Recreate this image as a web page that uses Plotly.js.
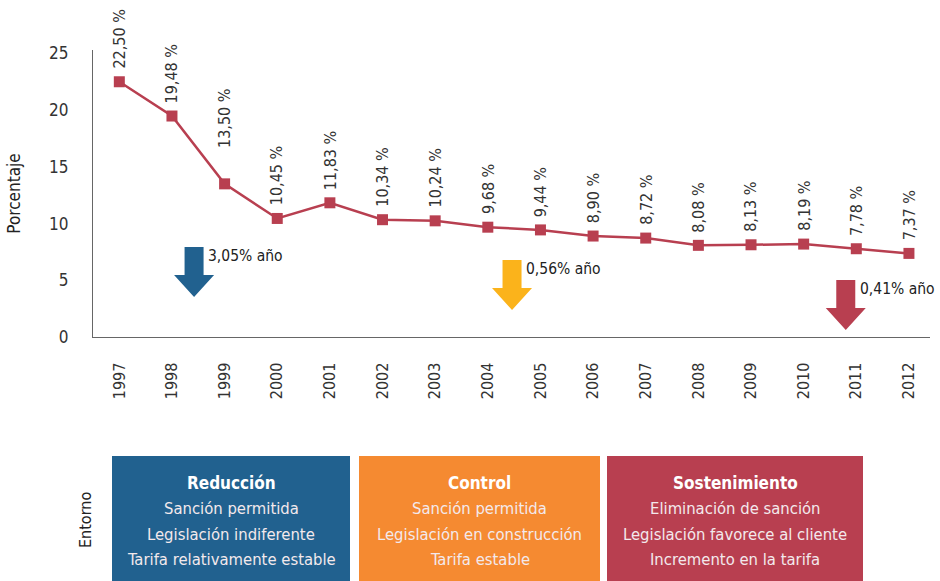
<!DOCTYPE html>
<html>
<head>
<meta charset="utf-8">
<script src="https://cdn.plot.ly/plotly-3.0.1.min.js"></script>
<style>html,body{margin:0;padding:0;background:#fff;}#chart{width:940px;height:581px;}</style>
</head>
<body>
<div id="chart"></div>
<script>
// ---- data ----
const years = ["1997","1998","1999","2000","2001","2002","2003","2004","2005","2006","2007","2008","2009","2010","2011","2012"];
const values = [22.50,19.48,13.50,10.45,11.83,10.34,10.24,9.68,9.44,8.90,8.72,8.08,8.13,8.19,7.78,7.37];
const valueLabels = ["22,50 %","19,48 %","13,50 %","10,45 %","11,83 %","10,34 %","10,24 %","9,68 %","9,44 %","8,90 %","8,72 %","8,08 %","8,13 %","8,19 %","7,78 %","7,37 %"];
const rateLabels = ["3,05% año","0,56% año","0,41% año"];
const stageTitles = ["Reducción","Control","Sostenimiento"];
const stageLines = [
  ["Sanción permitida","Legislación indiferente","Tarifa relativamente estable"],
  ["Sanción permitida","Legislación en construcción","Tarifa estable"],
  ["Eliminación de sanción","Legislación favorece al cliente","Incremento en la tarifa"]
];
const yTitle = "Porcentaje";
const sideLabel = "Entorno";

// ---- styling / layout ----
const FONT = "'Liberation Sans Narrow', 'DejaVu Sans Condensed', 'Roboto', sans-serif";
const lineColor = "#b83f50";
const stageColors = ["#21618f","#f58a31","#b83f50"];
const arrowColors = ["#21618f","#fbb31b","#b83f50"];
const arrowAnchorX = [1.42, 7.46, 13.8];   // category position of arrow tip
const arrowAnchorY = [3.53, 2.38, 0.62];   // value at arrow tip

const W = 940, H = 581;
const M = {l:93, r:10, t:50, b:244};
const plotW = W - M.l - M.r, plotH = H - M.t - M.b;
const px2x = px => (px - M.l) / plotW;
const py2y = py => (H - M.b - py) / plotH;

const trace = {
  x: years, y: values, type: 'scatter', mode: 'lines+markers',
  line: {color: lineColor, width: 2.5},
  marker: {symbol: 'square', size: 11, color: lineColor},
  hoverinfo: 'skip', cliponaxis: false
};

const annotations = [];
const shapes = [];

// data labels
years.forEach((yr, i) => {
  annotations.push({
    x: i, y: values[i], xref: 'x', yref: 'y',
    text: valueLabels[i], showarrow: false, textangle: -90,
    xanchor: 'center', yanchor: 'bottom', yshift: (i === 2 ? 34 : 11),
    font: {family: FONT, size: 16, color: '#333'}
  });
});

// arrows
const arrowPath = "M -9.5,50 L 9.5,50 L 9.5,22 L 20,22 L 0,0 L -20,22 L -9.5,22 Z";
rateLabels.forEach((t, k) => {
  shapes.push({
    type: 'path', xref: 'x', yref: 'y',
    xsizemode: 'pixel', ysizemode: 'pixel',
    xanchor: arrowAnchorX[k], yanchor: arrowAnchorY[k],
    path: arrowPath, fillcolor: arrowColors[k], line: {width: 0}
  });
  annotations.push({
    x: arrowAnchorX[k], y: arrowAnchorY[k], xref: 'x', yref: 'y',
    text: t, showarrow: false, xanchor: 'left', yanchor: 'middle',
    xshift: 12, yshift: 41,
    font: {family: FONT, size: 15.5, color: '#222'}
  });
});

// stage boxes
const boxPx = [[112,350],[359,600],[607,863]];
const boxTop = 456, boxBottom = 581;
const lineY = [483, 508, 534, 559];
stageTitles.forEach((title, k) => {
  shapes.push({
    type: 'rect', xref: 'paper', yref: 'paper',
    x0: px2x(boxPx[k][0]), x1: px2x(boxPx[k][1]),
    y0: py2y(boxBottom), y1: py2y(boxTop),
    fillcolor: stageColors[k], line: {width: 0}, layer: 'above'
  });
  const cx = px2x((boxPx[k][0] + boxPx[k][1]) / 2);
  annotations.push({
    x: cx, y: py2y(lineY[0]), xref: 'paper', yref: 'paper',
    text: '<b>' + title + '</b>', showarrow: false, xanchor: 'center', yanchor: 'middle',
    font: {family: FONT, size: 17, color: '#ffffff'}
  });
  stageLines[k].forEach((ln, j) => {
    annotations.push({
      x: cx, y: py2y(lineY[j + 1]), xref: 'paper', yref: 'paper',
      text: ln, showarrow: false, xanchor: 'center', yanchor: 'middle',
      font: {family: FONT, size: 16.5, color: '#f3e9ec'}
    });
  });
});

// side label
annotations.push({
  x: px2x(85), y: py2y(520), xref: 'paper', yref: 'paper',
  text: sideLabel, showarrow: false, textangle: -90,
  xanchor: 'center', yanchor: 'middle',
  font: {family: FONT, size: 16, color: '#222'}
});

const layout = {
  width: W, height: H,
  margin: M,
  paper_bgcolor: '#fff', plot_bgcolor: '#fff',
  showlegend: false,
  font: {family: FONT, color: '#333'},
  xaxis: {
    type: 'category', range: [-0.5, 15.4],
    showgrid: false, zeroline: false,
    showline: true, linecolor: '#666', linewidth: 1.2,
    ticks: '', tickangle: -90, ticklabelstandoff: 18,
    tickfont: {family: FONT, size: 16, color: '#333'},
    fixedrange: true
  },
  yaxis: {
    range: [0, 25.3], tickvals: [0,5,10,15,20,25],
    showgrid: false, zeroline: false,
    showline: true, linecolor: '#666', linewidth: 1.2,
    ticks: '', ticklabelstandoff: 20,
    tickfont: {family: FONT, size: 17, color: '#333'},
    title: {text: yTitle, standoff: 24, font: {family: FONT, size: 17, color: '#222'}},
    automargin: false, fixedrange: true
  },
  annotations: annotations,
  shapes: shapes
};

Plotly.newPlot('chart', [trace], layout, {displayModeBar: false, staticPlot: true});
</script>
</body>
</html>
